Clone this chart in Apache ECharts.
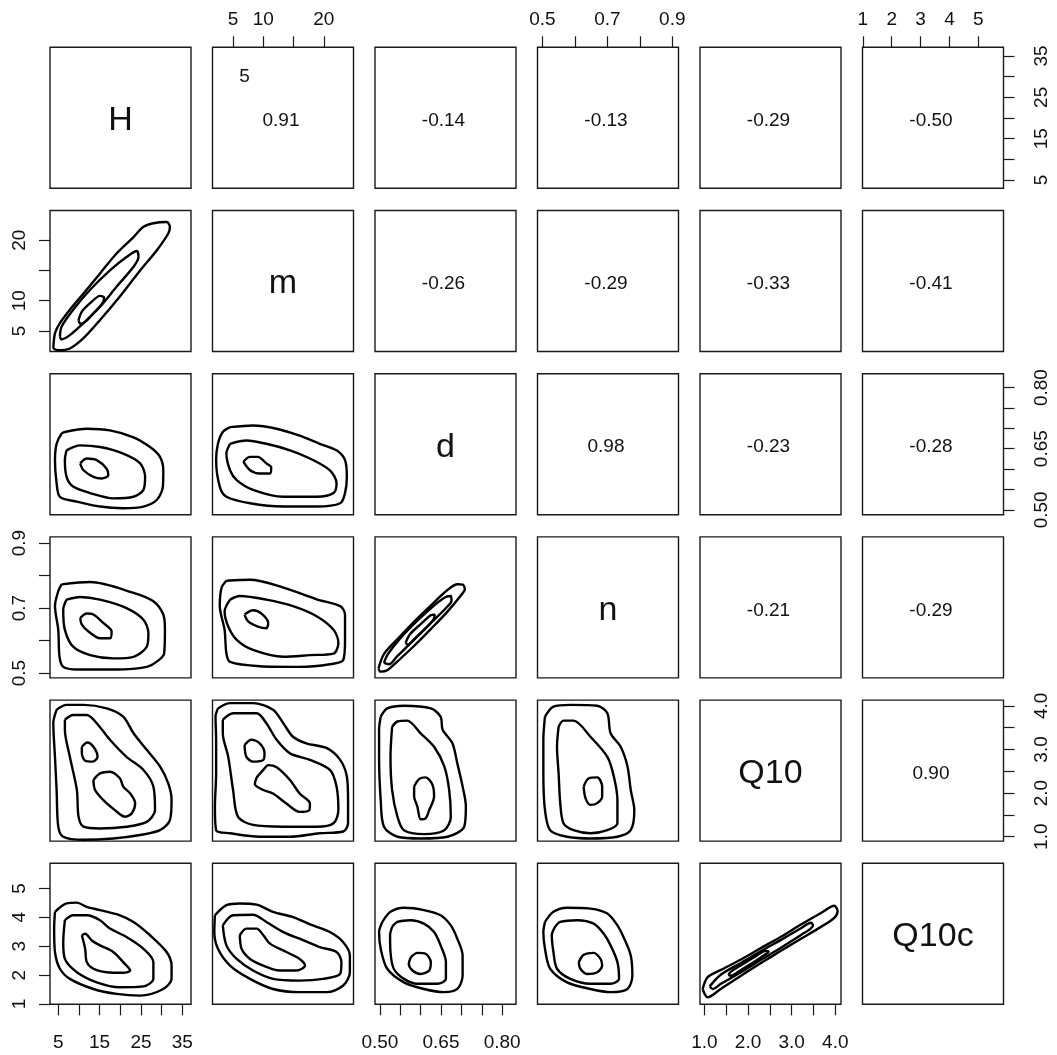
<!DOCTYPE html>
<html>
<head>
<meta charset="utf-8">
<script src="https://cdn.jsdelivr.net/npm/echarts@6/dist/echarts.min.js"></script>
<style>
  html, body { margin: 0; padding: 0; background: #ffffff; }
  #chart { width: 1057px; height: 1055px; }
</style>
</head>
<body>
<div id="chart"></div>
<script>
// Variables of the scatterplot matrix, in panel order
const varNames = ['H', 'm', 'd', 'n', 'Q10', 'Q10c'];
const axisMin = [3.0, 1.6, 0.488, 0.485, 0.90, 0.99];
const axisMax = [37.1, 24.9, 0.834, 0.919, 4.13, 5.87];
const labelDecimals = [0, 0, 2, 1, 1, 0];

// Tick marks and tick labels per variable
const ticksH = [5, 10, 15, 20, 25, 30, 35];
const labelsH = [5, 15, 25, 35];
const ticksM = [5, 10, 15, 20];
const labelsM = [5, 10, 20];
const ticksD = [0.50, 0.55, 0.60, 0.65, 0.70, 0.75, 0.80];
const labelsD = [0.50, 0.65, 0.80];
const ticksN = [0.5, 0.6, 0.7, 0.8, 0.9];
const labelsN = [0.5, 0.7, 0.9];
const ticksQ10 = [1.0, 1.5, 2.0, 2.5, 3.0, 3.5, 4.0];
const labelsQ10 = [1.0, 2.0, 3.0, 4.0];
const ticksQ10c = [1, 2, 3, 4, 5];
const labelsQ10c = [1, 2, 3, 4, 5];

// Pairwise correlations (upper triangle, one array per row)
const corrH = [0.91, -0.14, -0.13, -0.29, -0.50];
const corrM = [-0.26, -0.29, -0.33, -0.41];
const corrD = [0.98, -0.23, -0.28];
const corrN = [-0.21, -0.29];
const corrQ10 = [0.90];

// Density contour loops for the lower panels: [x, y] in data units (x = column var, y = row var)
const kde_H_m = [
  [[3.8,2.1],[4.2,4.6],[5.4,6.3],[7.8,8.5],[11.1,11.2],[15.1,14.5],[19.1,17.8],[23.2,20.5],[25.6,22.2],[28.0,22.8],[31.2,23.0],[32.0,22.2],[31.6,21.1],[28.8,18.3],[24.8,15.0],[19.9,10.7],[15.1,6.8],[11.1,3.8],[7.8,2.1],[5.0,1.8]],
  [[5.4,4.1],[5.8,5.7],[8.6,8.5],[12.7,11.8],[17.5,15.0],[21.5,17.2],[24.0,18.2],[24.4,17.2],[23.2,15.6],[19.1,12.3],[15.1,9.0],[11.1,6.3],[7.8,4.3],[5.8,3.6]],
  [[9.9,6.8],[10.7,8.2],[12.7,9.6],[15.1,10.8],[16.1,10.5],[15.5,9.4],[13.5,7.9],[11.5,6.5],[10.3,6.2]]
];
const kde_H_d = [
  [[6.6,0.691],[11.9,0.699],[17.5,0.695],[23.2,0.678],[27.2,0.654],[29.6,0.630],[30.4,0.597],[30.3,0.557],[28.8,0.524],[25.6,0.508],[20.7,0.504],[15.1,0.508],[9.5,0.520],[5.4,0.532],[4.6,0.565],[4.2,0.622],[4.6,0.662],[5.8,0.687]],
  [[7.0,0.646],[10.3,0.658],[15.1,0.654],[20.7,0.638],[24.8,0.614],[26.0,0.581],[25.6,0.549],[23.2,0.532],[18.3,0.528],[12.7,0.541],[8.6,0.557],[7.0,0.581],[6.6,0.622]],
  [[10.3,0.614],[11.9,0.626],[14.3,0.622],[16.7,0.601],[17.1,0.585],[15.5,0.577],[13.5,0.581],[11.1,0.597]]
];
const kde_m_d = [
  [[4.5,0.703],[8.3,0.707],[12.2,0.699],[16.0,0.682],[19.3,0.662],[22.1,0.646],[23.5,0.622],[23.8,0.581],[23.5,0.541],[22.7,0.516],[18.8,0.508],[13.3,0.508],[7.8,0.516],[3.9,0.532],[2.8,0.557],[2.2,0.622],[2.5,0.662],[3.3,0.691]],
  [[4.5,0.662],[7.2,0.670],[10.5,0.662],[14.4,0.646],[17.7,0.626],[21.0,0.597],[22.1,0.565],[21.6,0.541],[18.8,0.532],[13.3,0.532],[8.3,0.549],[5.6,0.573],[4.5,0.597],[3.9,0.638]],
  [[6.7,0.618],[7.8,0.630],[9.1,0.630],[10.5,0.614],[11.3,0.604],[11.1,0.589],[9.4,0.589],[7.8,0.597]]
];
const kde_H_n = [
  [[5.8,0.773],[12.7,0.780],[23.2,0.747],[28.0,0.721],[30.4,0.680],[30.8,0.633],[30.6,0.560],[28.8,0.535],[26.4,0.519],[19.1,0.511],[9.5,0.511],[6.2,0.519],[5.3,0.550],[5.0,0.633],[4.2,0.706],[5.0,0.752]],
  [[7.0,0.726],[10.3,0.734],[15.1,0.726],[21.5,0.700],[25.6,0.664],[26.8,0.622],[26.4,0.581],[23.2,0.550],[18.3,0.545],[12.7,0.555],[8.6,0.581],[6.6,0.633],[6.2,0.695]],
  [[10.3,0.669],[11.9,0.683],[13.5,0.680],[15.9,0.654],[17.9,0.628],[17.5,0.607],[15.1,0.607],[12.3,0.628],[10.7,0.649]]
];
const kde_m_n = [
  [[3.9,0.784],[7.8,0.787],[13.3,0.763],[18.8,0.727],[22.7,0.706],[23.5,0.680],[23.5,0.602],[23.2,0.540],[21.0,0.527],[16.0,0.519],[9.4,0.521],[4.5,0.534],[3.9,0.560],[3.6,0.633],[2.8,0.706],[3.1,0.763]],
  [[4.5,0.726],[6.1,0.737],[10.5,0.726],[14.9,0.706],[18.8,0.675],[21.6,0.633],[22.4,0.592],[21.6,0.560],[17.7,0.555],[13.3,0.550],[8.3,0.571],[5.6,0.602],[4.2,0.643],[3.6,0.690]],
  [[6.9,0.680],[8.3,0.693],[9.7,0.683],[10.8,0.654],[10.5,0.638],[9.1,0.643],[7.5,0.659]]
];
const kde_d_n = [
  [[0.4967,0.5146],[0.5099,0.5583],[0.5427,0.6039],[0.5837,0.6579],[0.6248,0.7078],[0.6658,0.7555],[0.6905,0.7732],[0.7036,0.7721],[0.7085,0.7576],[0.6987,0.7389],[0.6658,0.6891],[0.6248,0.6351],[0.5837,0.5832],[0.5427,0.5354],[0.5181,0.5084],[0.5016,0.5043]],
  [[0.5099,0.5313],[0.5197,0.5583],[0.5509,0.6081],[0.5920,0.6611],[0.6330,0.7078],[0.6617,0.7338],[0.6741,0.7369],[0.6757,0.7224],[0.6617,0.6995],[0.6248,0.6538],[0.5837,0.6019],[0.5427,0.5520],[0.5222,0.5271]],
  [[0.5632,0.5935],[0.5739,0.6195],[0.6002,0.6507],[0.6248,0.6777],[0.6346,0.6798],[0.6314,0.6642],[0.6084,0.6330],[0.5837,0.6039],[0.5690,0.5873]]
];
const kde_H_Q10 = [
  [[4.6,3.91],[7.0,4.02],[11.1,4.02],[16.7,3.94],[20.7,3.75],[23.2,3.37],[26.4,2.99],[29.6,2.61],[31.6,2.22],[32.4,1.84],[32.0,1.38],[29.6,1.15],[24.8,1.04],[18.3,0.96],[11.1,0.93],[6.2,1.00],[5.0,1.23],[4.6,2.07],[4.2,2.83],[3.8,3.60]],
  [[6.6,3.68],[8.6,3.79],[11.9,3.79],[14.3,3.60],[17.5,3.22],[21.5,2.83],[25.6,2.53],[28.0,2.15],[28.4,1.61],[26.4,1.34],[21.5,1.23],[15.1,1.19],[11.1,1.23],[9.9,1.46],[9.5,2.07],[7.8,2.83],[6.6,3.45]],
  [[10.7,3.06],[12.0,3.16],[13.6,3.05],[14.5,2.83],[13.3,2.72],[11.5,2.74],[10.7,2.91]],
  [[13.5,2.30],[15.1,2.45],[17.5,2.49],[19.9,2.34],[20.7,2.15],[22.4,1.99],[23.6,1.77],[22.8,1.54],[21.1,1.46],[18.7,1.61],[15.9,1.84],[13.9,2.07]]
];
const kde_m_Q10 = [
  [[2.5,3.94],[4.5,4.06],[8.3,4.06],[11.6,3.91],[13.3,3.60],[14.9,3.29],[17.1,3.14],[20.5,3.03],[22.7,2.76],[23.8,2.38],[24.0,1.84],[24.0,1.31],[23.2,1.12],[19.3,1.08],[14.4,1.00],[9.4,1.00],[4.5,1.08],[2.2,1.15],[2.0,1.69],[2.2,2.45],[2.2,3.22],[2.1,3.75]],
  [[3.3,3.68],[5.0,3.83],[8.9,3.83],[10.5,3.60],[12.2,3.22],[14.4,2.91],[17.7,2.76],[21.0,2.53],[22.1,2.15],[22.4,1.61],[21.6,1.31],[18.8,1.23],[13.3,1.23],[8.3,1.27],[5.8,1.46],[5.0,2.07],[4.2,2.83],[3.3,3.37]],
  [[6.9,3.10],[8.0,3.22],[9.4,3.14],[10.2,2.91],[10.0,2.76],[8.3,2.72],[7.2,2.83]],
  [[8.9,2.36],[10.0,2.53],[10.8,2.64],[12.2,2.59],[14.4,2.30],[16.0,1.99],[17.7,1.76],[17.6,1.61],[16.0,1.57],[13.8,1.76],[11.6,1.99],[10.0,2.07],[8.6,2.21]]
];
const kde_d_Q10 = [
  [[0.502,3.75],[0.518,3.94],[0.559,4.00],[0.625,3.94],[0.649,3.75],[0.654,3.45],[0.678,3.14],[0.690,2.68],[0.703,2.15],[0.711,1.69],[0.707,1.23],[0.666,1.00],[0.600,0.96],[0.543,1.00],[0.510,1.23],[0.502,1.84],[0.498,2.83],[0.498,3.45]],
  [[0.530,3.52],[0.543,3.64],[0.567,3.66],[0.600,3.37],[0.633,3.06],[0.658,2.61],[0.670,2.07],[0.674,1.46],[0.658,1.15],[0.608,1.06],[0.559,1.15],[0.543,1.46],[0.530,2.07],[0.526,2.83]],
  [[0.584,2.15],[0.596,2.32],[0.612,2.36],[0.629,2.19],[0.633,1.92],[0.621,1.61],[0.612,1.42],[0.600,1.40],[0.592,1.69],[0.584,1.92]]
];
const kde_n_Q10 = [
  [[0.508,3.75],[0.534,3.98],[0.586,4.02],[0.669,4.00],[0.700,3.83],[0.710,3.37],[0.741,3.06],[0.762,2.61],[0.772,2.07],[0.783,1.61],[0.772,1.15],[0.731,1.00],[0.648,0.96],[0.576,1.00],[0.524,1.15],[0.508,1.61],[0.503,2.45],[0.503,3.22]],
  [[0.550,3.52],[0.565,3.66],[0.596,3.66],[0.648,3.29],[0.700,2.83],[0.720,2.38],[0.731,1.84],[0.731,1.31],[0.700,1.15],[0.648,1.08],[0.596,1.15],[0.565,1.31],[0.555,1.77],[0.550,2.45],[0.545,3.06]],
  [[0.627,2.15],[0.643,2.34],[0.669,2.36],[0.684,2.15],[0.684,1.92],[0.669,1.77],[0.648,1.73],[0.633,1.88]]
];
const kde_H_Q10c = [
  [[4.2,4.19],[7.0,4.48],[9.5,4.51],[11.9,4.36],[15.1,4.25],[19.9,4.07],[23.2,3.84],[27.2,3.38],[31.2,2.80],[32.4,2.33],[32.4,1.87],[30.4,1.52],[24.8,1.29],[19.1,1.35],[13.5,1.52],[7.8,1.87],[5.4,2.22],[4.2,2.80],[4.0,3.61]],
  [[6.6,3.90],[8.6,4.07],[11.9,4.07],[15.1,3.90],[17.5,3.61],[21.5,3.32],[25.6,2.91],[28.0,2.45],[28.0,1.87],[25.6,1.61],[19.9,1.58],[14.3,1.75],[9.5,2.10],[6.6,2.56],[6.2,3.14]],
  [[10.7,3.38],[11.5,3.43],[13.1,3.20],[15.1,3.03],[18.3,2.80],[20.7,2.45],[22.4,2.16],[20.7,2.08],[16.7,2.10],[13.5,2.22],[11.9,2.45],[11.5,2.91]]
];
const kde_m_Q10c = [
  [[2.0,4.07],[3.9,4.42],[6.1,4.48],[8.9,4.44],[11.6,4.19],[14.9,4.01],[18.2,3.72],[21.0,3.49],[23.2,3.14],[24.3,2.68],[24.3,2.10],[23.2,1.64],[20.5,1.41],[16.0,1.41],[11.6,1.52],[7.8,1.87],[4.5,2.33],[2.5,2.91],[1.9,3.49]],
  [[3.3,3.72],[5.0,4.07],[8.3,4.09],[10.5,3.84],[13.3,3.49],[16.0,3.26],[19.3,2.97],[22.1,2.80],[22.9,2.45],[22.7,2.04],[19.9,1.87],[16.0,1.81],[11.6,1.87],[8.3,2.16],[5.6,2.56],[3.9,3.03]],
  [[6.1,3.38],[7.2,3.61],[8.9,3.61],[10.0,3.38],[11.1,3.09],[13.8,2.80],[16.0,2.56],[16.9,2.33],[15.5,2.16],[12.7,2.16],[10.0,2.33],[7.8,2.56],[6.4,2.91]]
];
const kde_d_Q10c = [
  [[0.506,3.84],[0.526,4.19],[0.559,4.33],[0.608,4.25],[0.649,4.07],[0.674,3.72],[0.690,3.26],[0.703,2.68],[0.703,1.99],[0.690,1.52],[0.658,1.41],[0.608,1.52],[0.559,1.75],[0.518,2.22],[0.502,2.91],[0.498,3.49]],
  [[0.530,3.67],[0.543,3.84],[0.576,3.90],[0.608,3.78],[0.633,3.49],[0.649,3.03],[0.662,2.45],[0.662,1.87],[0.641,1.70],[0.592,1.70],[0.559,1.87],[0.534,2.22],[0.526,2.80],[0.525,3.38]],
  [[0.576,2.62],[0.592,2.77],[0.612,2.74],[0.625,2.45],[0.621,2.16],[0.600,2.04],[0.580,2.16],[0.571,2.39]]
];
const kde_n_Q10c = [
  [[0.508,3.84],[0.534,4.19],[0.576,4.33],[0.648,4.30],[0.700,4.13],[0.731,3.72],[0.752,3.26],[0.772,2.68],[0.777,1.99],[0.762,1.52],[0.710,1.41],[0.648,1.52],[0.576,1.75],[0.524,2.22],[0.508,2.91],[0.503,3.49]],
  [[0.539,3.67],[0.555,3.84],[0.607,3.90],[0.658,3.78],[0.689,3.43],[0.710,3.03],[0.731,2.45],[0.736,1.87],[0.710,1.70],[0.648,1.70],[0.586,1.87],[0.545,2.22],[0.534,2.80],[0.529,3.38]],
  [[0.612,2.45],[0.627,2.70],[0.658,2.77],[0.679,2.56],[0.684,2.33],[0.669,2.10],[0.638,2.04],[0.617,2.22]]
];
const kde_Q10_Q10c = [
  [[0.961,1.52],[1.076,1.93],[1.381,2.18],[1.839,2.54],[2.297,2.94],[2.755,3.33],[3.213,3.75],[3.671,4.15],[3.976,4.40],[4.052,4.21],[3.976,3.98],[3.671,3.67],[3.213,3.26],[2.755,2.84],[2.297,2.42],[1.839,1.98],[1.381,1.53],[1.076,1.23]],
  [[1.121,1.61],[1.381,2.02],[1.839,2.42],[2.297,2.83],[2.755,3.22],[3.213,3.62],[3.442,3.81],[3.488,3.73],[3.442,3.62],[3.213,3.39],[2.755,2.95],[2.297,2.53],[1.839,2.10],[1.381,1.70],[1.190,1.52]],
  [[1.549,2.01],[1.610,2.12],[1.839,2.34],[2.144,2.62],[2.411,2.84],[2.472,2.81],[2.411,2.73],[2.144,2.46],[1.839,2.18],[1.610,1.98]]
];

const FONT = '"Liberation Sans", Arial, Helvetica, sans-serif';
const INK = '#111111';

// Panel geometry (pixels)
const X0 = 50, DX = 162.5, Y0 = 47.3, DY = 163.2, SIZE = 141;

const tickSets = [ticksH, ticksM, ticksD, ticksN, ticksQ10, ticksQ10c];
const labelSets = [labelsH, labelsM, labelsD, labelsN, labelsQ10, labelsQ10c];
const corrRows = [corrH, corrM, corrD, corrN, corrQ10];

const lowerPanels = [
  { row: 1, col: 0, loops: kde_H_m },
  { row: 2, col: 0, loops: kde_H_d },
  { row: 2, col: 1, loops: kde_m_d },
  { row: 3, col: 0, loops: kde_H_n },
  { row: 3, col: 1, loops: kde_m_n },
  { row: 3, col: 2, loops: kde_d_n },
  { row: 4, col: 0, loops: kde_H_Q10 },
  { row: 4, col: 1, loops: kde_m_Q10 },
  { row: 4, col: 2, loops: kde_d_Q10 },
  { row: 4, col: 3, loops: kde_n_Q10 },
  { row: 5, col: 0, loops: kde_H_Q10c },
  { row: 5, col: 1, loops: kde_m_Q10c },
  { row: 5, col: 2, loops: kde_d_Q10c },
  { row: 5, col: 3, loops: kde_n_Q10c },
  { row: 5, col: 4, loops: kde_Q10_Q10c }
];

function makeAxis(v, k, position, visible, margin, vertical) {
  return {
    gridIndex: k,
    type: 'value',
    min: axisMin[v],
    max: axisMax[v],
    position: position,
    show: visible,
    axisLine: { show: false },
    splitLine: { show: false },
    axisTick: {
      show: visible, inside: false, length: 11,
      customValues: tickSets[v],
      lineStyle: { color: '#1a1a1a', width: 1.2 }
    },
    axisLabel: {
      show: visible,
      customValues: labelSets[v],
      margin: margin,
      rotate: vertical ? 90 : 0,
      fontSize: 19,
      fontFamily: FONT,
      color: INK,
      formatter: function (val) { return Number(val).toFixed(labelDecimals[v]); }
    }
  };
}

const grids = [], xAxes = [], yAxes = [], series = [], graphics = [];

for (let i = 0; i < 6; i++) {
  for (let j = 0; j < 6; j++) {
    const k = i * 6 + j;
    grids.push({
      left: X0 + DX * j, top: Y0 + DY * i, width: SIZE, height: SIZE,
      show: true, borderColor: '#1a1a1a', borderWidth: 1.4, backgroundColor: 'transparent'
    });
    const onTop = i === 0 && j % 2 === 1;
    const onBottom = i === 5 && j % 2 === 0;
    xAxes.push(makeAxis(j, k, onTop ? 'top' : 'bottom', onTop || onBottom, onTop ? 18 : 29, false));
    const onLeft = j === 0 && i % 2 === 1;
    const onRight = j === 5 && i % 2 === 0;
    yAxes.push(makeAxis(i, k, onLeft ? 'left' : 'right', onLeft || onRight, onLeft ? 21 : 29, true));

    const cx = X0 + DX * j + SIZE / 2;
    const cy = Y0 + DY * i + SIZE / 2 + 3;
    if (i === j) {
      graphics.push({
        type: 'text', x: cx, y: cy,
        style: { text: varNames[i], font: '34px ' + FONT, fill: INK, align: 'center', verticalAlign: 'middle' }
      });
    } else if (j > i) {
      graphics.push({
        type: 'text', x: cx - 2, y: cy,
        style: { text: corrRows[i][j - i - 1].toFixed(2), font: '19px ' + FONT, fill: INK, align: 'center', verticalAlign: 'middle' }
      });
    }
  }
}

// Small stray label in the H–m correlation panel
graphics.push({
  type: 'text', x: X0 + DX + 32, y: Y0 + 29,
  style: { text: '5', font: '19px ' + FONT, fill: INK, align: 'center', verticalAlign: 'middle' }
});

lowerPanels.forEach(function (p) {
  const k = p.row * 6 + p.col;
  p.loops.forEach(function (pts) {
    series.push({
      type: 'line',
      xAxisIndex: k, yAxisIndex: k,
      data: pts.concat([pts[0]]),
      showSymbol: false, symbol: 'none',
      smooth: 0.3,
      silent: true,
      lineStyle: { color: '#000000', width: 2.4 },
      z: 3
    });
  });
});

const chart = echarts.init(document.getElementById('chart'), null, { renderer: 'canvas' });
chart.setOption({
  backgroundColor: '#ffffff',
  animation: false,
  grid: grids,
  xAxis: xAxes,
  yAxis: yAxes,
  series: series,
  graphic: graphics
});
</script>
</body>
</html>
